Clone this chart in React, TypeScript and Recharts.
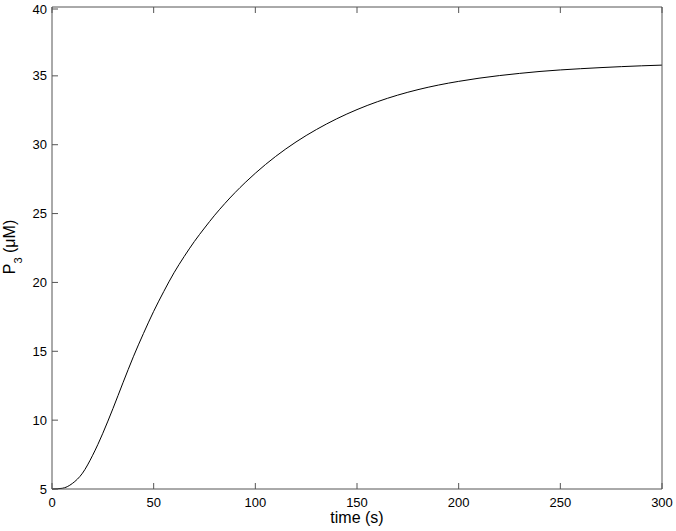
import React from "react";
import { Label, Line, LineChart, XAxis, YAxis } from "recharts";

// time (s) and P3 (uM)
const times = [
  0, 5, 10, 15, 20, 25, 30, 35, 40, 45, 50, 55, 60, 65, 70, 75, 80, 85, 90, 95, 100,
  110, 120, 130, 140, 150, 160, 170, 180, 190, 200, 210, 220, 230, 240, 250, 260, 270, 280, 290, 300,
];
const p3Values = [
  5.0, 5.05, 5.4, 6.15, 7.45, 9.05, 10.85, 12.75, 14.6, 16.3, 17.9, 19.35, 20.7, 21.88, 22.97, 23.95, 24.88, 25.73, 26.52, 27.25, 27.93,
  29.15, 30.2, 31.1, 31.88, 32.55, 33.12, 33.6, 34.0, 34.33, 34.6, 34.83, 35.02, 35.18, 35.32, 35.43, 35.52, 35.6, 35.67, 35.73, 35.78,
];
const xTicks = [0, 50, 100, 150, 200, 250, 300];
const yTicks = [5, 10, 15, 20, 25, 30, 35, 40];

const data = times.map((t, i) => ({ t, p3: p3Values[i] }));

const TICK_LEN = 6;
const FRAME = "#555";
const FONT = "'Liberation Sans', Arial, Helvetica, sans-serif";

const BottomTick = ({ x, y, payload }: any) => (
  <g>
    <line x1={x} x2={x} y1={y} y2={y - TICK_LEN} stroke={FRAME} />
    <text x={x} y={y + 18} textAnchor="middle" fontSize={13} fill="#000" fontFamily={FONT}>
      {payload.value}
    </text>
  </g>
);

const LeftTick = ({ x, y, payload }: any) => (
  <g>
    <line x1={x} x2={x + TICK_LEN} y1={y} y2={y} stroke={FRAME} />
    <text x={x - 5} y={y + 4.5} textAnchor="end" fontSize={13} fill="#000" fontFamily={FONT}>
      {payload.value}
    </text>
  </g>
);

const TopTick = ({ x, y }: any) => (
  <line x1={x} x2={x} y1={y} y2={y + TICK_LEN} stroke={FRAME} />
);

const RightTick = ({ x, y }: any) => (
  <line x1={x} x2={x - TICK_LEN} y1={y} y2={y} stroke={FRAME} />
);

const YTitle = () => (
  <text
    x={15}
    y={247}
    transform="rotate(-90, 15, 247)"
    textAnchor="middle"
    fontSize={16}
    fill="#000"
    fontFamily={FONT}
  >
    P
    <tspan fontSize={11} dy={7}>3</tspan>
    <tspan dy={-7}> (μM)</tspan>
  </text>
);

const XTitle = () => (
  <text x={357} y={523} textAnchor="middle" fontSize={16} fill="#000" fontFamily={FONT}>
    time (s)
  </text>
);

export default function App() {
  return (
    <div style={{ position: "absolute", left: 0, top: 0, width: 676, height: 531, background: "#fff" }}>
      <LineChart width={676} height={531} data={data} margin={{ top: 6, right: 13, bottom: 0, left: 0 }}>
        <XAxis
          dataKey="t"
          type="number"
          domain={[0, 300]}
          ticks={xTicks}
          height={42}
          tickSize={0}
          tickMargin={0}
          tickLine={false}
          axisLine={{ stroke: FRAME }}
          tick={<BottomTick />}
        >
          <Label content={<XTitle />} />
        </XAxis>
        <XAxis
          xAxisId="top"
          orientation="top"
          dataKey="t"
          type="number"
          domain={[0, 300]}
          ticks={xTicks}
          height={1}
          tickSize={0}
          tickMargin={0}
          tickLine={false}
          axisLine={{ stroke: FRAME }}
          tick={<TopTick />}
        />
        <YAxis
          type="number"
          domain={[5, 40]}
          ticks={yTicks}
          width={52}
          tickSize={0}
          tickMargin={0}
          tickLine={false}
          axisLine={{ stroke: FRAME }}
          tick={<LeftTick />}
        >
          <Label content={<YTitle />} />
        </YAxis>
        <YAxis
          yAxisId="right"
          orientation="right"
          type="number"
          domain={[5, 40]}
          ticks={yTicks}
          width={1}
          tickSize={0}
          tickMargin={0}
          tickLine={false}
          axisLine={{ stroke: FRAME }}
          tick={<RightTick />}
        />
        <Line
          type="monotone"
          dataKey="p3"
          stroke="#000"
          strokeWidth={1}
          dot={false}
          isAnimationActive={false}
        />
      </LineChart>
    </div>
  );
}
